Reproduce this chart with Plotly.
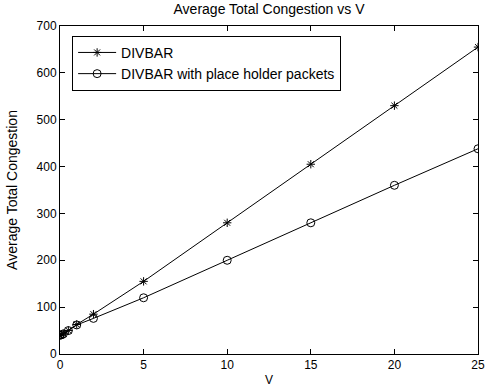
import plotly.graph_objects as go

V = [0, 0.1, 0.2, 0.5, 1, 2, 5, 10, 15, 20, 25]
divbar = [40, 41, 43, 50, 63, 85, 155, 280, 405, 530, 655]
divbar_ph = [40, 41, 43, 50, 62, 76, 120, 200, 280, 360, 438]

font = "Liberation Sans, Arial, sans-serif"

fig = go.Figure()
fig.add_trace(go.Scatter(x=V, y=divbar, mode="lines+markers", name="DIVBAR",
                         line=dict(color="black", width=1),
                         marker=dict(symbol="asterisk-open", size=7, color="black",
                                     line=dict(color="black", width=1))))
fig.add_trace(go.Scatter(x=V, y=divbar_ph, mode="lines+markers",
                         name="DIVBAR with place holder packets",
                         line=dict(color="black", width=1),
                         marker=dict(symbol="circle-open", size=8, color="black",
                                     line=dict(color="black", width=1))))

axis_common = dict(showline=True, linecolor="black", linewidth=1, mirror="ticks",
                   ticks="inside", ticklen=5, tickcolor="black", showgrid=False,
                   zeroline=False, automargin=False,
                   tickfont=dict(family=font, size=12, color="black"))

fig.update_layout(
    width=487, height=387,
    margin=dict(l=60, r=9, t=26, b=33, autoexpand=False),
    paper_bgcolor="white", plot_bgcolor="white",
    title=dict(text="Average Total Congestion vs V", xref="paper", x=0.5, xanchor="center",
               yref="container", y=0.99, yanchor="top",
               font=dict(family=font, size=14, color="black")),
    xaxis=dict(range=[0, 25], tickvals=[0, 5, 10, 15, 20, 25],
               title=dict(text="V", standoff=5, font=dict(family=font, size=12, color="black")),
               **axis_common),
    yaxis=dict(range=[0, 700], tickvals=[0, 100, 200, 300, 400, 500, 600, 700],
               title=dict(text="Average Total Congestion", standoff=15,
                          font=dict(family=font, size=14, color="black")),
               **axis_common),
    legend=dict(x=0.029, y=0.97, xanchor="left", yanchor="top",
                bordercolor="black", borderwidth=1, bgcolor="white",
                font=dict(family=font, size=14, color="black"),
                tracegroupgap=0, itemwidth=38),
    showlegend=True,
)

fig.write_html("out.html", config={"displayModeBar": False},
               post_script="document.body.style.margin='0';document.body.style.overflow='hidden';")
